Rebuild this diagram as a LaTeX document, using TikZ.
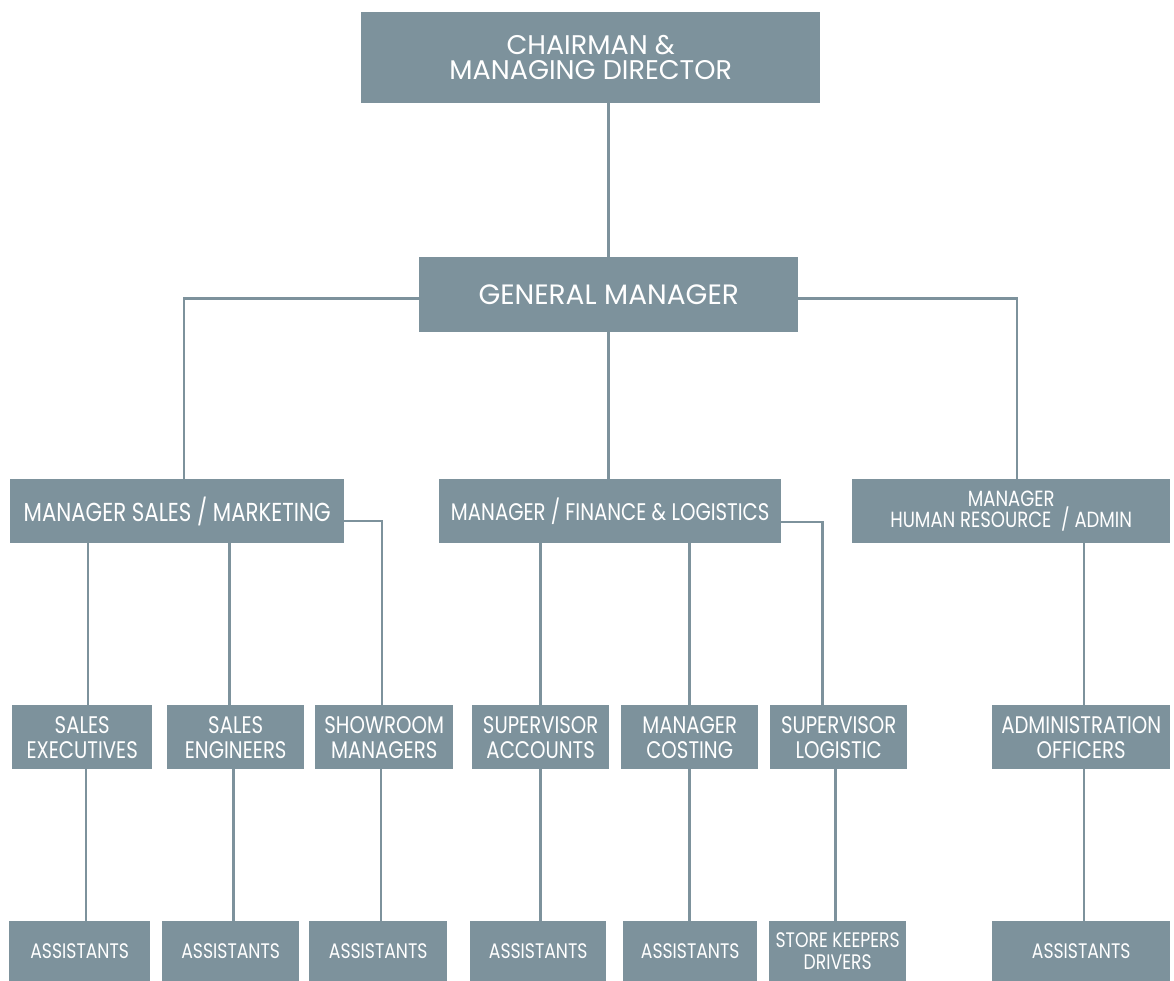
\documentclass[tikz,border=0pt]{standalone}
\usepackage{fontspec}
\setmainfont{Poppins}
\newfontfamily\narrowfont{Poppins}[FakeStretch=0.82]
\definecolor{boxgray}{RGB}{125,146,156}
\newcommand{\h}{64pt}

\begin{document}
\begin{tikzpicture}[x=1pt, y=-1pt,
    box/.style={fill=boxgray, text=white, anchor=north west, minimum height=\h, inner sep=0pt, align=center, font=\narrowfont\fontsize{24}{25}\selectfont},
    small/.style={font=\narrowfont\fontsize{21}{22}\selectfont},
    link/.style={draw=boxgray, line width=2.5pt}]
    \fill[white] (0,0) rectangle (1174,981);
    \useasboundingbox (0,0) rectangle (1174,981);

    % Top
    \node[box, minimum width=459pt, minimum height=91pt, font=\fontsize{27}{25}\selectfont] (chair) at (361,12) {CHAIRMAN \&\\MANAGING DIRECTOR};
    \node[box, minimum width=379pt, minimum height=75pt, font=\fontsize{28}{29}\selectfont] (gm) at (419,257) {GENERAL MANAGER};

    % Managers
    \node[box, minimum width=334pt, font=\narrowfont\fontsize{26}{27}\selectfont] (msales) at (10,479) {MANAGER SALES / MARKETING};
    \node[box, minimum width=342pt] (mfin) at (439,479) {MANAGER / FINANCE \& LOGISTICS};
    \node[box, minimum width=318pt, font=\narrowfont\fontsize{22}{21}\selectfont] (mhr) at (852,479) {MANAGER\\HUMAN RESOURCE~~/ ADMIN};

    % Second row
    \node[box, minimum width=140pt] (sexec) at (12,705) {SALES\\EXECUTIVES};
    \node[box, minimum width=137pt] (seng) at (167,705) {SALES\\ENGINEERS};
    \node[box, minimum width=138pt] (show) at (315,705) {SHOWROOM\\MANAGERS};
    \node[box, minimum width=137pt] (supacc) at (472,705) {SUPERVISOR\\ACCOUNTS};
    \node[box, minimum width=137pt] (mcost) at (621,705) {MANAGER\\COSTING};
    \node[box, minimum width=137pt] (suplog) at (770,705) {SUPERVISOR\\LOGISTIC};
    \node[box, minimum width=178pt] (admin) at (992,705) {ADMINISTRATION\\OFFICERS};

    % Third row
    \node[box, small, minimum width=141pt, minimum height=60pt] (asst-1) at (9,921) {ASSISTANTS};
    \node[box, small, minimum width=137pt, minimum height=60pt] (asst-2) at (162,921) {ASSISTANTS};
    \node[box, small, minimum width=138pt, minimum height=60pt] (asst-3) at (309,921) {ASSISTANTS};
    \node[box, small, minimum width=136pt, minimum height=60pt] (asst-4) at (470,921) {ASSISTANTS};
    \node[box, small, minimum width=134pt, minimum height=60pt] (asst-5) at (623,921) {ASSISTANTS};
    \node[box, small, minimum width=137pt, minimum height=60pt] (store) at (769,921) {STORE KEEPERS\\DRIVERS};
    \node[box, small, minimum width=178pt, minimum height=60pt] (asst-7) at (992,921) {ASSISTANTS};

    % Links
    \draw[link] (gm.north) -- (gm.north |- chair.south);
    \draw[link] ([yshift=-4pt]gm.west) -| ([xshift=7pt]msales.north);
    \draw[link] (gm.south) -- (gm.south |- mfin.north);
    \draw[link] ([yshift=-4pt]gm.east) -| ([xshift=6pt]mhr.north);

    \draw[link] ([xshift=6pt]sexec.north) -- ([xshift=6pt]sexec.north |- msales.south);
    \draw[link] ([xshift=-6pt]seng.north) -- ([xshift=-6pt]seng.north |- msales.south);
    \draw[link] ([yshift=-10pt]msales.east) -| ([xshift=-2pt]show.north);

    \draw[link] (supacc.north) -- (supacc.north |- mfin.south);
    \draw[link] (mcost.north) -- (mcost.north |- mfin.south);
    \draw[link] ([yshift=-11pt]mfin.east) -| ([xshift=-16pt]suplog.north);

    \draw[link] ([xshift=3pt]admin.north) -- ([xshift=3pt]admin.north |- mhr.south);

    \draw[link] ([xshift=4pt]sexec.south) -- ([xshift=4pt]sexec.south |- asst-1.north);
    \draw[link] ([xshift=-2pt]seng.south) -- ([xshift=-2pt]seng.south |- asst-2.north);
    \draw[link] ([xshift=-3pt]show.south) -- ([xshift=-3pt]show.south |- asst-3.north);
    \draw[link] (supacc.south) -- (supacc.south |- asst-4.north);
    \draw[link] (mcost.south) -- (mcost.south |- asst-5.north);
    \draw[link] ([xshift=-3pt]suplog.south) -- ([xshift=-3pt]suplog.south |- store.north);
    \draw[link] ([xshift=3pt]admin.south) -- ([xshift=3pt]admin.south |- asst-7.north);

\end{tikzpicture}
\end{document}
